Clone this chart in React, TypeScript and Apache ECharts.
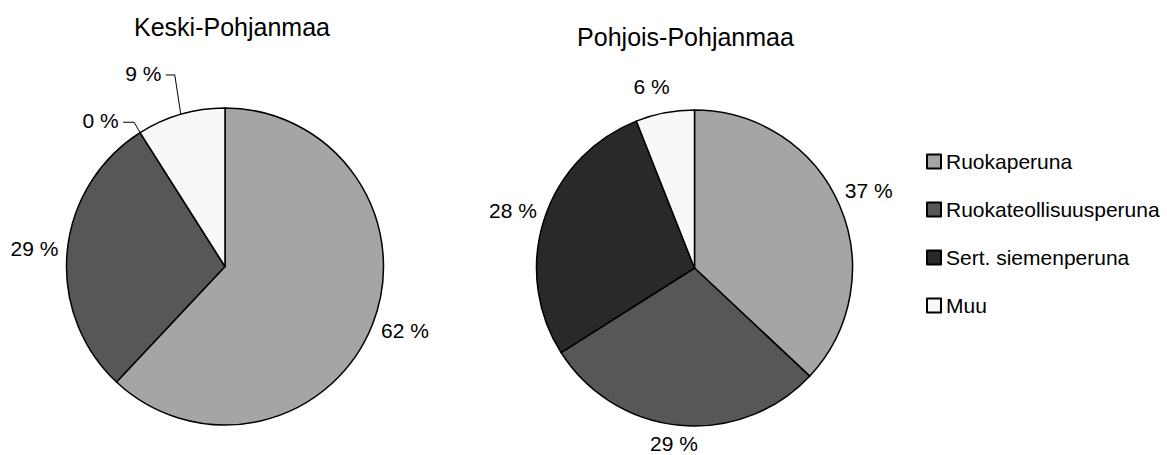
import React, { useEffect, useRef } from 'react';
import * as echarts from 'echarts';

const categories = ['Ruokaperuna', 'Ruokateollisuusperuna', 'Sert. siemenperuna', 'Muu'];
const keskiValues = [62, 29, 0, 9];
const pohjoisValues = [37, 29, 28, 6];
const regionTitles = ['Keski-Pohjanmaa', 'Pohjois-Pohjanmaa'];
const sliceColors = ['#a5a5a5', '#575757', '#292929', '#f8f8f8'];

const FONT = '"Liberation Sans", Arial, sans-serif';
const GAP = 9;

const PIES = [
  {
    cx: 225, cy: 266.5, r: 158.5, values: keskiValues, titleX: 232, titleY: 27,
    nudges: [[2, 0], [0, -1.5], [-25, 2], [-30, -25]],
    leader: [false, false, true, true],
  },
  {
    cx: 694.5, cy: 268, r: 158, values: pohjoisValues, titleX: 685.5, titleY: 37,
    nudges: [[-1, -8], [-2.5, 1.5], [0, -3.5], [-8.3, -9.6]],
    leader: [false, false, false, false],
  },
];

function makeSeries(pi: number) {
  const g = PIES[pi];
  const total = g.values.reduce((a, b) => a + b, 0);
  return {
    type: 'pie',
    name: regionTitles[pi],
    center: [g.cx, g.cy],
    radius: g.r,
    startAngle: 90,
    clockwise: true,
    avoidLabelOverlap: false,
    silent: true,
    itemStyle: { borderColor: '#000', borderWidth: 1.5 },
    label: {
      show: true,
      position: 'outside',
      formatter: '{c} %',
      fontSize: 21,
      fontFamily: FONT,
      color: '#000',
    },
    labelLine: { show: false, lineStyle: { color: '#000', width: 1 } },
    labelLayout: (p: any) => {
      const i = p.dataIndex;
      let acc = 0;
      for (let k = 0; k < i; k++) acc += g.values[k];
      const mid = ((acc + g.values[i] / 2) / total) * Math.PI * 2;
      const s = Math.sin(mid);
      const c = -Math.cos(mid);
      const w = p.labelRect.width;
      const h = 15;
      const x = g.cx + (g.r + GAP + w / 2) * s + g.nudges[i][0];
      const y = g.cy + (g.r + GAP + h / 2) * c + g.nudges[i][1];
      const res: any = { x, y, align: 'center', verticalAlign: 'middle' };
      if (g.leader[i]) {
        const ex = g.cx + g.r * s;
        const ey = g.cy + g.r * c;
        const hy = y + 1.5;
        res.labelLinePoints = [[ex, ey], [ex - 6, hy], [x + w / 2 + 4.5, hy]];
      }
      return res;
    },
    data: categories.map((name, i) => ({
      name,
      value: g.values[i],
      itemStyle: { color: sliceColors[i] },
      labelLine: { show: g.leader[i] },
    })),
  };
}

export default function App() {
  const ref = useRef<HTMLDivElement>(null);
  useEffect(() => {
    if (!ref.current) return;
    const chart = echarts.init(ref.current, undefined, { renderer: 'svg' });
    chart.setOption({
      animation: false,
      backgroundColor: '#fff',
      legend: {
        orient: 'vertical',
        left: 921,
        top: 146,
        icon: 'rect',
        itemWidth: 14,
        itemHeight: 14,
        itemGap: 27,
        selectedMode: false,
        data: categories,
        textStyle: { fontSize: 21, fontFamily: FONT, color: '#000', lineHeight: 21 },
      },
      graphic: PIES.map((g, i) => ({
        type: 'text',
        x: g.titleX,
        y: g.titleY,
        style: {
          text: regionTitles[i],
          fill: '#000',
          font: `25px ${FONT}`,
          align: 'center',
          verticalAlign: 'middle',
        },
      })),
      series: [makeSeries(0), makeSeries(1)],
    });
    return () => chart.dispose();
  }, []);
  return (
    <div
      ref={ref}
      style={{ position: 'fixed', left: 0, top: 0, width: 1167, height: 455, background: '#fff' }}
    />
  );
}
